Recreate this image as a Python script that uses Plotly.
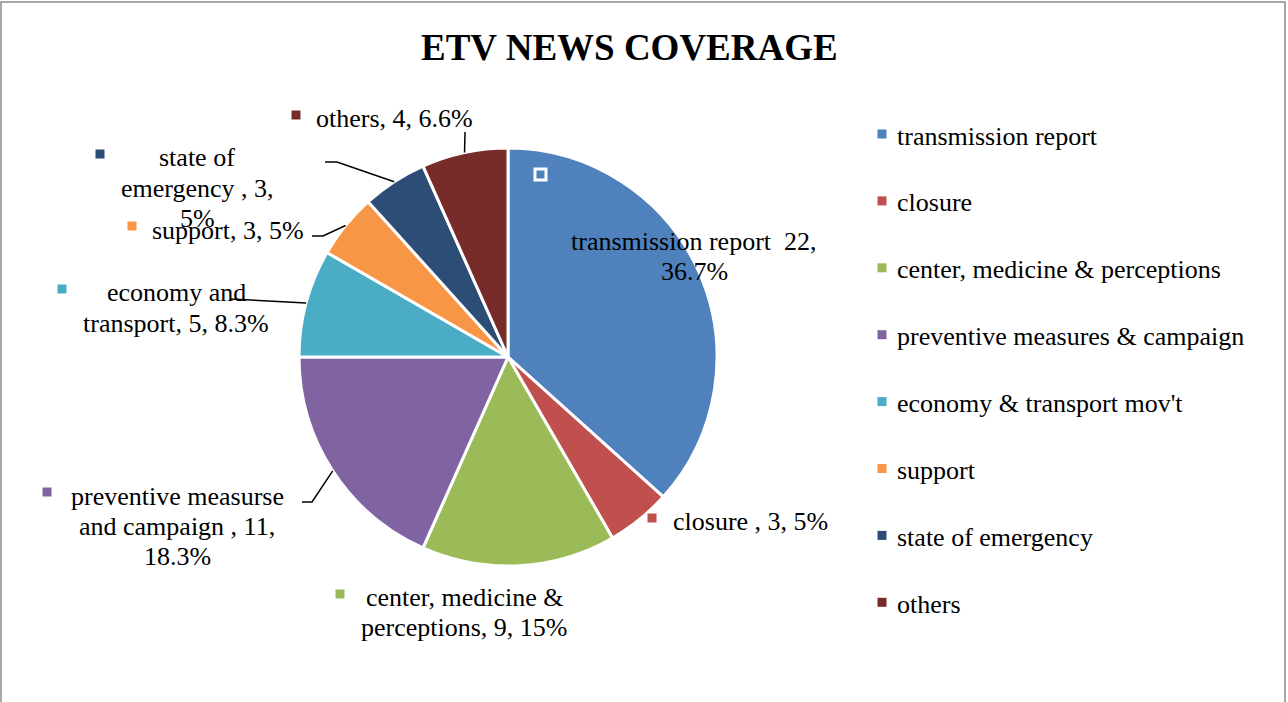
import math
import plotly.graph_objects as go

# ---------------- data ----------------
categories = ["transmission report", "closure", "center, medicine & perceptions",
              "preventive measures & campaign", "economy & transport mov't",
              "support", "state of emergency", "others"]
values = [22, 3, 9, 11, 5, 3, 3, 4]
pct_labels = ["36.7%", "5%", "15%", "18.3%", "8.3%", "5%", "5%", "6.6%"]
# data-label wording as printed on the chart ("\n" = line break)
label_names = ["transmission report", "closure", "center, medicine &\nperceptions",
               "preventive measurse\nand campaign", "economy and\ntransport",
               "support", "state of\nemergency", "others"]
value_sep = ["  ", " , ", ", ", " , ", ", ", ", ", " , ", ", "]
pct_sep = [",\n", ", ", ", ", ",\n", ", ", ", ", ",\n", ", "]
colors = ["#4F81BD", "#C0504D", "#9BBB59", "#8064A2", "#4BACC6",
          "#F79646", "#2C4D75", "#772C2A"]
title_text = "ETV NEWS COVERAGE"

# ---------------- layout constants (pixels) ----------------
W, H = 1288, 702
CX, CY, R = 508, 357, 209
FONT = "Liberation Serif, Times New Roman, serif"


def px(x):
    return x / W


def py(y):
    return 1 - y / H


# label placement: (center x, first line y, square x, square y)
label_pos = [
    (694, 241, None, None),
    (750, 521, 652, 518),
    (464, 597, 340, 594),
    (177, 496, 47, 492),
    (176, 293, 62, 289),
    (228, 230, 132, 226),
    (197, 158, 100, 154),
    (394, 118, 296, 115),
]
line_gap = 30
# leader line elbow points (pixels); end point is on the slice edge
leaders = {
    3: [(302, 502), (312, 502)],
    4: [(230, 299)],
    5: [(312, 236), (323, 236)],
    6: [(325, 162), (337, 162)],
    7: [(465, 132)],
}

fig = go.Figure(go.Pie(
    labels=categories,
    values=values,
    sort=False,
    direction="clockwise",
    rotation=0,
    marker=dict(colors=colors, line=dict(color="white", width=3)),
    textinfo="none",
    hoverinfo="label+value+percent",
    showlegend=False,
    domain=dict(x=[px(CX - R), px(CX + R)], y=[py(CY + R), py(CY - R)]),
))

annotations = []
shapes = []

# border
shapes.append(dict(type="rect", xref="paper", yref="paper",
                   x0=px(1), x1=px(1285), y0=-0.05, y1=py(2),
                   line=dict(color="#8C8C8C", width=1.5), fillcolor="rgba(0,0,0,0)",
                   layer="below"))

# title
annotations.append(dict(text="<b>" + title_text + "</b>", x=px(629), y=py(47),
                        xref="paper", yref="paper", xanchor="center", yanchor="middle",
                        showarrow=False, font=dict(family=FONT, size=37, color="black")))

# data labels
total = sum(values)
cum = 0
for i, v in enumerate(values):
    mid = (cum + v / 2) / total * 2 * math.pi
    cum += v
    ex, ey = CX + R * math.sin(mid), CY - R * math.cos(mid)
    text = label_names[i] + value_sep[i] + str(v) + pct_sep[i] + pct_labels[i]
    lines = text.split("\n")
    lx, ly, sx, sy = label_pos[i]
    for k, ln in enumerate(lines):
        annotations.append(dict(text=ln, x=px(lx), y=py(ly + k * line_gap),
                                xref="paper", yref="paper", xanchor="center",
                                yanchor="middle", showarrow=False,
                                font=dict(family=FONT, size=26, color="black")))
    if sx is not None:
        shapes.append(dict(type="rect", xref="paper", yref="paper",
                           x0=px(sx - 4.5), x1=px(sx + 4.5),
                           y0=py(sy + 4.5), y1=py(sy - 4.5),
                           fillcolor=colors[i], line=dict(width=0)))
    if i in leaders:
        pts = leaders[i] + [(ex, ey)]
        path = "M " + " L ".join(f"{px(a)},{py(b)}" for a, b in pts)
        shapes.append(dict(type="path", xref="paper", yref="paper", path=path,
                           line=dict(color="black", width=1.5)))

# small white-outlined marker inside the first slice
shapes.append(dict(type="rect", xref="paper", yref="paper",
                   x0=px(535), x1=px(546), y0=py(180), y1=py(169),
                   fillcolor=colors[0], line=dict(color="white", width=3)))

# legend (drawn manually to match the spacing)
leg_x, leg_y0, leg_gap = 882, 134, 66.9
for i, c in enumerate(categories):
    yy = leg_y0 + i * leg_gap
    shapes.append(dict(type="rect", xref="paper", yref="paper",
                       x0=px(leg_x - 4.5), x1=px(leg_x + 4.5),
                       y0=py(yy + 4.5), y1=py(yy - 4.5),
                       fillcolor=colors[i], line=dict(width=0)))
    annotations.append(dict(text=c, x=px(895), y=py(yy + 2), xref="paper", yref="paper",
                            xanchor="left", yanchor="middle", showarrow=False,
                            font=dict(family=FONT, size=26, color="black")))

fig.update_layout(
    width=W, height=H,
    margin=dict(l=0, r=0, t=0, b=0),
    paper_bgcolor="white", plot_bgcolor="white",
    annotations=annotations, shapes=shapes,
    font=dict(family=FONT),
)

fig.write_html("out.html")
